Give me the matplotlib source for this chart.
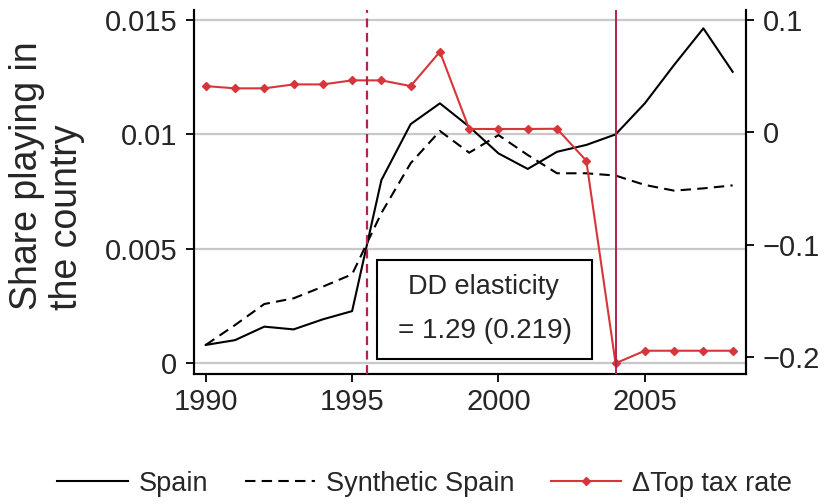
import numpy as np
import matplotlib
matplotlib.use("Agg")
import matplotlib.pyplot as plt
from matplotlib.patches import Rectangle

plt.rcParams['font.family'] = ['Liberation Sans', 'DejaVu Sans']

# Data
years = np.arange(1990, 2009)
spain = [0.00079, 0.00100, 0.00159, 0.00147, 0.00191, 0.00227, 0.00800, 0.01045,
         0.01136, 0.01034, 0.00917, 0.00849, 0.00924, 0.00954, 0.01000, 0.01136,
         0.01304, 0.01464, 0.01274]
synthetic = [0.00079, 0.00166, 0.00258, 0.00283, 0.00334, 0.00388, 0.00656, 0.00874,
             0.01015, 0.00920, 0.00997, 0.00910, 0.00830, 0.00830, 0.00820, 0.00779,
             0.00754, 0.00764, 0.00777]
top_tax = [0.0412, 0.0392, 0.0392, 0.0427, 0.0427, 0.0463, 0.0463, 0.0412,
           0.0718, 0.003, 0.003, 0.003, 0.0032, -0.0253, -0.2057, -0.1945,
           -0.1945, -0.1945, -0.1945]
reform_years = [1995.5, 2004]
dd_lines = ["DD elasticity", "= 1.29 (0.219)"]

text_col = '#262626'
red = '#d8353a'
vline_col = '#b3244a'

fig = plt.figure(figsize=(8.31, 5.04), dpi=100)
ax = fig.add_axes([0.2335, 0.258, 0.664, 0.722])
ax2 = ax.twinx()

# share playing (left axis)
ax.plot(years, spain, color='black', lw=1.5, label='Spain', zorder=3)
ax.plot(years, synthetic, color='black', lw=1.5, ls=(0, (5, 3)),
        label='Synthetic Spain', zorder=3)
ax.set_xlim(1989.6, 2008.45)
ax.set_ylim(-0.00048, 0.01544)
ax.set_yticks([0, 0.005, 0.01, 0.015])
ax.set_yticklabels(['0', '0.005', '0.01', '0.015'])
ax.set_xticks([1990, 1995, 2000, 2005])
ax.grid(axis='y', color='#c8c8c8', lw=1.6, zorder=0)
ax.set_axisbelow(True)
fig.text(47 / 831, 1 - 176 / 504, "Share playing in\nthe country", rotation=90,
         ha='center', va='center', multialignment='left', fontsize=27,
         color=text_col, linespacing=1.12)

# change in top tax rate (right axis)
ax2.plot(years, top_tax, color=red, lw=1.5, marker='D', ms=4.5,
         label='\u0394Top tax rate', zorder=4)
ax2.set_ylim(-0.2152, 0.1089)
ax2.set_yticks([-0.2, -0.1, 0, 0.1])
ax2.set_yticklabels(['\u22120.2', '\u22120.1', '0', '0.1'])

ax2.axvline(reform_years[0], color=vline_col, lw=1.6, ls=(0, (4, 2.5)), zorder=5)
ax2.axvline(reform_years[1], color=vline_col, lw=1.4, zorder=5)

for a in (ax, ax2):
    a.spines['top'].set_visible(False)
    for s in ('left', 'right', 'bottom'):
        a.spines[s].set_linewidth(1.5)
        a.spines[s].set_color('black')
    a.tick_params(length=6, width=1.3, labelsize=21, labelcolor=text_col)
ax.tick_params(axis='y', pad=6)
ax.tick_params(axis='x', pad=4)
ax2.tick_params(axis='y', pad=6)

# DD elasticity box
ax.add_patch(Rectangle((1995.86, 0.000175), 7.32, 0.004325, facecolor='white',
                       edgecolor='black', lw=1.5, zorder=6))
ax.text(1999.5, 0.00332, dd_lines[0], ha='center', va='center',
        fontsize=19.5, color=text_col, zorder=7)
ax.text(1999.55, 0.0014, dd_lines[1], ha='center', va='center',
        fontsize=20, color=text_col, zorder=7)

h1, l1 = ax.get_legend_handles_labels()
h2, l2 = ax2.get_legend_handles_labels()
fig.legend(h1 + h2, l1 + l2, loc='center', bbox_to_anchor=(0.511, 0.04),
           ncol=3, frameon=False, fontsize=19.5, labelcolor=text_col,
           handlelength=2.6, handletextpad=0.4, columnspacing=1.35)

fig.savefig('out.png', dpi=100)
